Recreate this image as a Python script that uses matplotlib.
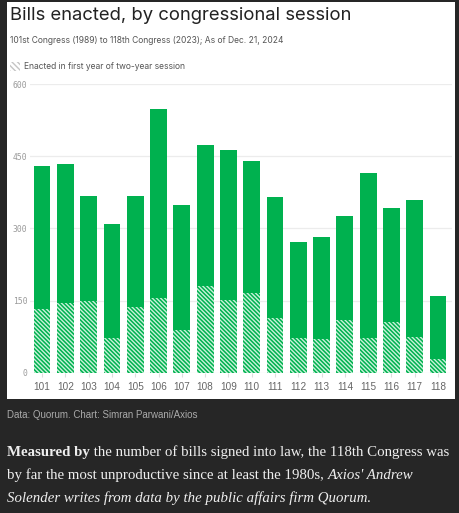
import matplotlib
matplotlib.use("Agg")
import matplotlib.pyplot as plt
from matplotlib.patches import Rectangle

# data
congress = ["101", "102", "103", "104", "105", "106", "107", "108", "109",
            "110", "111", "112", "113", "114", "115", "116", "117", "118"]
total = [430, 433, 368, 310, 368, 549, 349, 474, 462,
         439, 365, 271, 281, 325, 416, 343, 358, 159]
first_year = [132, 144, 149, 73, 137, 155, 89, 180, 152,
              166, 114, 73, 70, 109, 73, 105, 74, 28]
yticks = [0, 150, 300, 450, 600]

GREEN = "#00b14f"
HATCH = "#c9f2da"
BG = "#262626"
W, H = 460, 513

plt.rcParams["hatch.linewidth"] = 1.0
plt.rcParams["hatch.color"] = HATCH

fig = plt.figure(figsize=(W / 100, H / 100), dpi=100, facecolor=BG)

# white card behind the chart
fig.patches.append(Rectangle((7 / W, 1 - 399 / H), 448 / W, 397 / H,
                             transform=fig.transFigure, facecolor="white",
                             edgecolor="none", zorder=-5))

ax = fig.add_axes([30 / W, 1 - 372.7 / H, 422 / W, (372.7 - 84) / H])
ax.set_facecolor("none")
x = range(len(congress))
ax.bar(x, total, width=0.72, color=GREEN, linewidth=0, zorder=2)
ax.bar(x, first_year, width=0.72, facecolor=GREEN, edgecolor=HATCH,
       hatch="\\" * 8, linewidth=0, zorder=3)

ax.set_xlim(-0.52, 17.6)
ax.set_ylim(0, 600)
ax.set_yticks(yticks)
ax.set_yticklabels([str(v) for v in yticks], family="DejaVu Sans Mono",
                   fontsize=5.8, color="#9a9a9a")
ax.set_xticks(list(x))
ax.set_xticklabels(congress, family="Liberation Sans", fontsize=7.2, color="#666666")
ax.tick_params(axis="y", length=0, pad=2)
ax.tick_params(axis="x", length=3, color="#dddddd", width=0.8, pad=4)
ax.grid(axis="y", color="#ececec", linewidth=0.9, zorder=1)
ax.set_axisbelow(True)
for s in ax.spines.values():
    s.set_visible(False)

# header
fig.text(10 / W, 1 - 16 / H, "Bills enacted, by congressional session",
         family="Inter", fontsize=13.3, color="#222222", va="center")
fig.text(10 / W, 1 - 40.5 / H, "101st Congress (1989) to 118th Congress (2023); As of Dec. 21, 2024",
         family="Inter", fontsize=6.1, color="#555555", va="center")
fig.patches.append(Rectangle((10 / W, 1 - 71 / H), 10 / W, 9 / H,
                             transform=fig.transFigure, facecolor="white",
                             edgecolor="#c4c4c4", hatch="\\" * 6, linewidth=0))
fig.text(24 / W, 1 - 66.5 / H, "Enacted in first year of two-year session",
         family="Inter", fontsize=6.1, color="#555555", va="center")

# footer
fig.text(7 / W, 1 - 415 / H, "Data: Quorum. Chart: Simran Parwani/Axios",
         family="Liberation Sans", fontsize=7, color="#aaaaaa", va="center")

renderer = fig.canvas.get_renderer()


def advance(s, **kw):
    # width of s including boundary spaces, in figure fraction
    a = fig.text(0, 0, "x" + s + "x", **kw)
    b = fig.text(0, 0, "xx", **kw)
    w = a.get_window_extent(renderer).width - b.get_window_extent(renderer).width
    a.remove(); b.remove()
    return w / W


def runs(y, parts):
    xpos = 7 / W
    for s, style in parts:
        kw = dict(family="Liberation Serif", fontsize=10.7, color="#eeeeee", **style)
        fig.text(xpos, 1 - y / H, s, va="baseline", **kw)
        xpos += advance(s, **kw)


runs(456, [("Measured by", {"weight": "bold"}),
           (" the number of bills signed into law, the 118th Congress was", {})])
runs(479, [("by far the most unproductive since at least the 1980s, ", {}),
           ("Axios' Andrew", {"style": "italic"})])
runs(502, [("Solender writes from data by the public affairs firm Quorum", {"style": "italic"}),
           (".", {})])

fig.savefig("out.png", dpi=100, facecolor=BG)
